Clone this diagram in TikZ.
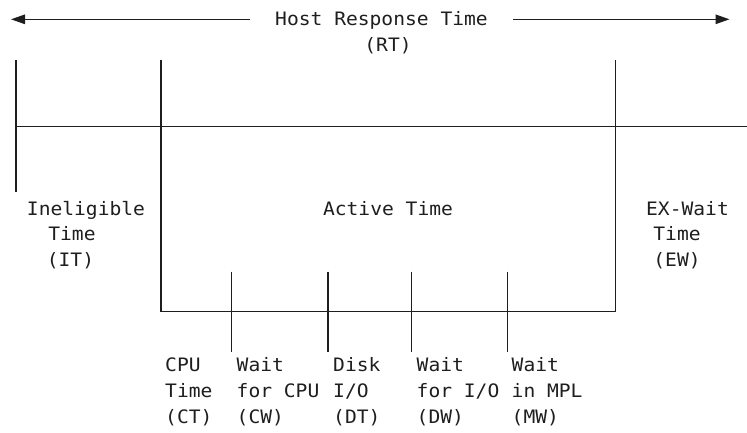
\documentclass[tikz,border=0pt]{standalone}
\usepackage{fontspec}
\newfontfamily\monofnt[FakeStretch=1.06]{DejaVu Sans Mono}
\usetikzlibrary{arrows.meta}
\definecolor{ink}{HTML}{1E1E1E}
\tikzset{
  lbl/.style={font=\monofnt\fontsize{18.5}{26}\selectfont, text=ink, inner sep=0pt, anchor=base},
  lblw/.style={lbl, anchor=base west},
  ln/.style={draw=ink, line width=1.2pt},
  arr/.style={ln, -{Triangle[length=14pt,width=9.5pt]}}
}
\begin{document}
\begin{tikzpicture}[x=1pt,y=-1pt]
\useasboundingbox (0,0) rectangle (747,432);
% top label
\node[lbl] (host) at (381.5,25.7) {Host Response Time};
\node[lbl] (rt) at (388,51.7) {(RT)};
\coordinate (la) at (250,19.3);
\coordinate (lt) at (11,19.3);
\coordinate (ra) at (513,19.3);
\coordinate (rt2) at (729.5,19.3);
\draw[arr] (la) -- (lt);
\draw[arr] (ra) -- (rt2);
% main lines
\coordinate (v1t) at (16,60);   \coordinate (v1b) at (16,192);
\coordinate (v2t) at (161,60);  \coordinate (v2b) at (161,311.7);
\coordinate (v3t) at (615.5,60);\coordinate (v3b) at (615.5,311.7);
\coordinate (hl) at (16,126.8); \coordinate (hr) at (747,126.8);
\draw[ln] (v1t) -- (v1b);
\draw[ln] (hl) -- (hr);
\draw[ln] (v2t) -- (v2b) -- (v3b) -- (v3t);
% ticks
\foreach \i/\x in {1/231.7,2/328,3/411.7,4/507.7}{
  \coordinate (t\i a) at (\x,271.7);
  \coordinate (t\i b) at (\x,351.7);
  \draw[ln] (t\i a) -- (t\i b);
}
% ineligible
\node[lbl] (ie1) at (86,215) {Ineligible};
\node[lbl] (ie2) at (72,240.5) {Time};
\node[lbl] (ie3) at (70.5,266) {(IT)};
% active
\node[lbl] (ac) at (388,215) {Active Time};
% ex-wait
\node[lbl] (ew1) at (687.5,215) {EX-Wait};
\node[lbl] (ew2) at (677,240.5) {Time};
\node[lbl] (ew3) at (677,266) {(EW)};
% bottom labels
\node[lblw] (ct1) at (165,371.7) {CPU};
\node[lblw] (ct2) at (165,397.7) {Time};
\node[lblw] (ct3) at (165,423.7) {(CT)};
\node[lblw] (cw1) at (236.5,371.7) {Wait};
\node[lblw] (cw2) at (236.5,397.7) {for CPU};
\node[lblw] (cw3) at (236.5,423.7) {(CW)};
\node[lblw] (dt1) at (333,371.7) {Disk};
\node[lblw] (dt2) at (333,397.7) {I/O};
\node[lblw] (dt3) at (333,423.7) {(DT)};
\node[lblw] (dw1) at (416.5,371.7) {Wait};
\node[lblw] (dw2) at (416.5,397.7) {for I/O};
\node[lblw] (dw3) at (416.5,423.7) {(DW)};
\node[lblw] (mw1) at (511.5,371.7) {Wait};
\node[lblw] (mw2) at (511.5,397.7) {in MPL};
\node[lblw] (mw3) at (511.5,423.7) {(MW)};
\end{tikzpicture}
\end{document}
